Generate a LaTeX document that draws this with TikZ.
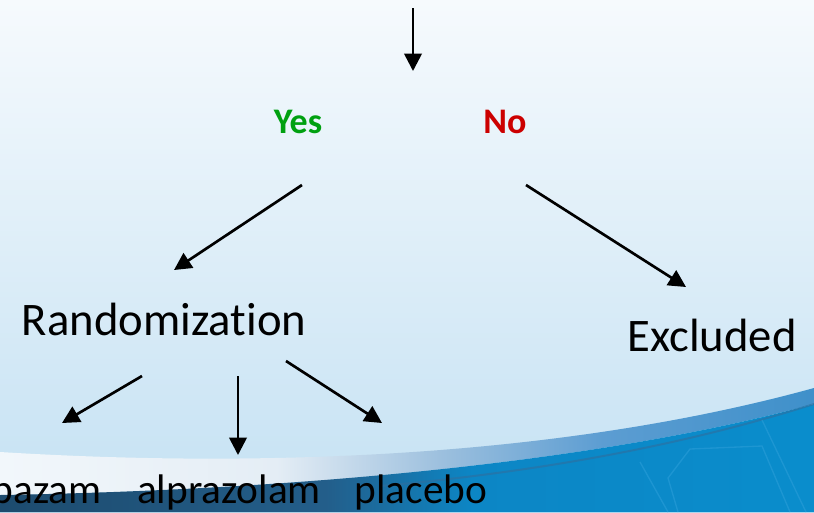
\documentclass[tikz,border=0pt]{standalone}
\usepackage{fontspec}
\setmainfont{Carlito}[Ligatures={NoCommon}]
\usetikzlibrary{arrows.meta}
\definecolor{yesgreen}{HTML}{00A010}
\definecolor{nored}{HTML}{CC0000}
\definecolor{bgtop}{HTML}{F6FAFD}
\definecolor{bgbot}{HTML}{C4E1F3}
\definecolor{bandA}{HTML}{F2F7FB}
\definecolor{bandB}{HTML}{E4EDF5}
\definecolor{bandC}{HTML}{9DC0DE}
\definecolor{bandD}{HTML}{5C9DD2}
\definecolor{bandE}{HTML}{3F90CA}
\definecolor{lowA}{HTML}{1D4B6E}
\definecolor{lowB}{HTML}{235E8A}
\definecolor{lowC}{HTML}{0C86C5}
\definecolor{lowD}{HTML}{0A8DCC}
\definecolor{hexline}{HTML}{2A9DD8}
\definecolor{edgeline}{HTML}{2F6E9E}
\pgfdeclarehorizontalshading{bandshade}{100bp}{color(0bp)=(bandA); color(25bp)=(bandA); color(42bp)=(bandB); color(52bp)=(bandC); color(62bp)=(bandD); color(75bp)=(bandE); color(100bp)=(bandE)}
\pgfdeclarehorizontalshading{lowshade}{100bp}{color(0bp)=(lowA); color(25bp)=(lowA); color(45bp)=(lowB); color(54bp)=(lowC); color(75bp)=(lowD); color(100bp)=(lowD)}
\begin{document}
\begin{tikzpicture}[x=0.75pt,y=-0.75pt,
  conn/.style={line width=2pt,-{Triangle[length=13pt,width=13pt]}},
  bigtxt/.style={inner sep=0pt,anchor=base,font=\fontsize{35}{40}\selectfont},
  yntxt/.style={inner sep=0pt,anchor=base,font=\fontsize{27}{32}\selectfont\bfseries},
  smalltxt/.style={inner sep=0pt,anchor=base,font=\fontsize{31}{36}\selectfont}]
\useasboundingbox (0,0) rectangle (814,512);
\clip (0,0) rectangle (814,512);
% background
\shade[top color=bgtop,bottom color=bgbot] (0,0) rectangle (814,512);
% swoosh band
\shade[shading=bandshade]
  (0,452) .. controls (260,468) and (560,458) .. (814,388)
  -- (814,404) .. controls (600,462) and (300,490) .. (0,495) -- cycle;
% lower region
\shade[shading=lowshade]
  (0,495) .. controls (300,490) and (600,462) .. (814,404)
  -- (814,512) -- (0,512) -- cycle;
\draw[edgeline,line width=1.5pt,opacity=0.6]
  (380,486) .. controls (560,470) and (700,440) .. (814,404);
% faint hexagon lines
\begin{scope}[hexline,line width=1pt,opacity=0.6]
\draw (640,462) -- (668,512);
\draw (678,512) -- (668,478) -- (690,449) -- (762,446) -- (790,512);
\draw (762,420) -- (806,512);
\end{scope}
% texts
\node[yntxt,text=yesgreen] (yes) at (298,133) {Yes};
\node[yntxt,text=nored] (no) at (505,133) {No};
\node[bigtxt] (rand) at (164,335) {Randomization};
\node[bigtxt] (excl) at (712,351) {Excluded};
\node[smalltxt,anchor=base east] (clob) at (102,503) {bazam};
\node[smalltxt] (alp) at (229,503) {alprazolam};
\node[smalltxt] (plac) at (421,503) {placebo};
% connector end points
\coordinate (src) at (413,8);
\coordinate (srcT) at (413,71);
\coordinate (yesS) at (302,185);
\coordinate (randT) at (174,270);
\coordinate (noS) at (526,185);
\coordinate (exclT) at (686,287);
\coordinate (randL) at (142,376);
\coordinate (clobT) at (62,423);
\coordinate (randM) at (238,376);
\coordinate (alpT) at (238,455);
\coordinate (randR) at (286,361);
\coordinate (placT) at (382,423);
\draw[conn] (src) -- (srcT);
\draw[conn] (yesS) -- (randT);
\draw[conn] (noS) -- (exclT);
\draw[conn] (randL) -- (clobT);
\draw[conn] (randM) -- (alpT);
\draw[conn] (randR) -- (placT);
\end{tikzpicture}
\end{document}
